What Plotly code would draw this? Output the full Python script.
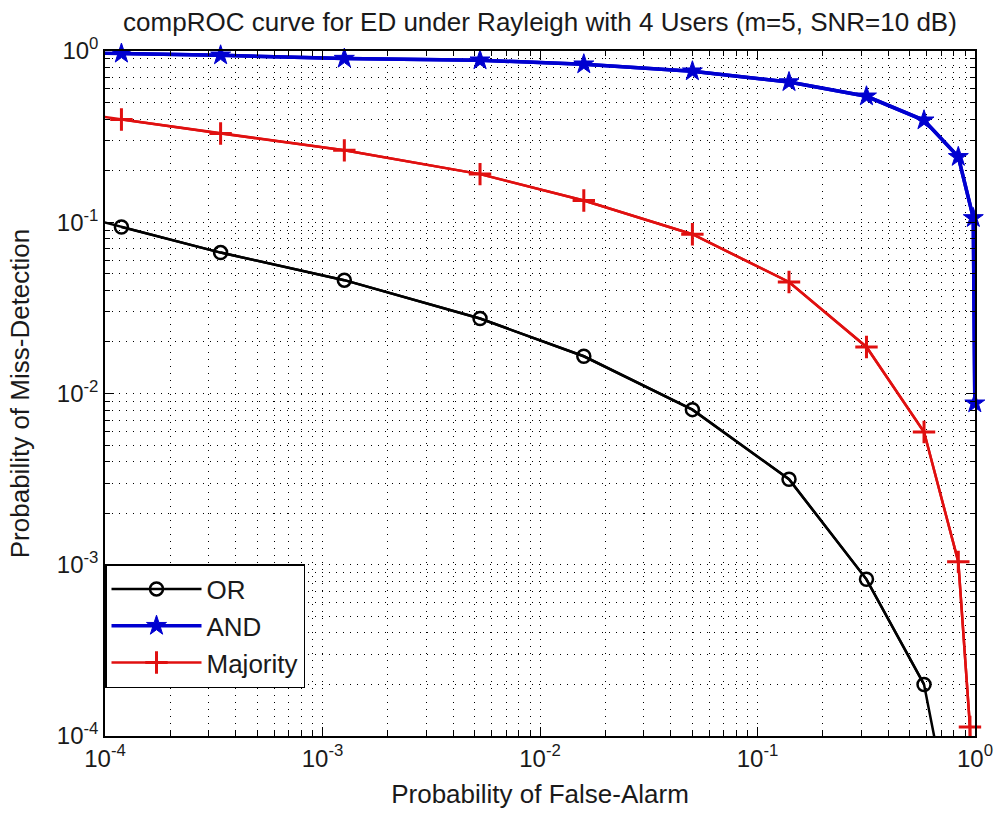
import plotly.graph_objects as go

# ---- data ----
pf_common = [1.19e-4, 3.40e-4, 1.26e-3, 5.30e-3, 1.59e-2, 5.02e-2, 0.1396, 0.317, 0.583, 0.838]

pf_or = pf_common[:9]
pm_or = [0.0939, 0.0665, 0.0459, 0.0274, 0.0165, 0.00805, 0.00316, 8.22e-4, 2.0e-4]

pf_and = pf_common + [0.982, 0.998]
pm_and = [0.966, 0.944, 0.903, 0.883, 0.837, 0.762, 0.659, 0.544, 0.394, 0.241, 0.106, 0.00877]

pf_maj = pf_common + [0.948]
pm_maj = [0.398, 0.330, 0.263, 0.191, 0.134, 0.0851, 0.0448, 0.0187, 0.00596, 0.00104, 1.13e-4]

# curve segments that continue outside the axes limits (clipped)
pf_or_ext = [4.0e-5] + pf_or + [0.838]
pm_or_ext = [0.135] + pm_or + [1.9e-5]
pf_and_ext = [4.0e-5] + pf_and
pm_and_ext = [0.99] + pm_and
pf_maj_ext = [4.0e-5] + pf_maj + [0.99]
pm_maj_ext = [0.485] + pm_maj + [1.0e-5]

major_vals = [1e-4, 1e-3, 1e-2, 1e-1, 1]
major_text = ["10<sup>-4</sup>", "10<sup>-3</sup>", "10<sup>-2</sup>", "10<sup>-1</sup>", "10<sup>0</sup>"]
minor_vals = [k * 10.0 ** e for e in range(-4, 0) for k in range(2, 10)]

FONT = "Arial, Liberation Sans, Helvetica, sans-serif"
BLACK = "#000000"
BLUE = "#0000d0"
RED = "#e01010"
TXT = "#1a1a1a"

fig = go.Figure()

# clipped line extensions (no legend)
for xs, ys, col, w in [(pf_or_ext, pm_or_ext, BLACK, 2.5),
                       (pf_and_ext, pm_and_ext, BLUE, 3.5),
                       (pf_maj_ext, pm_maj_ext, RED, 2.5)]:
    fig.add_trace(go.Scatter(x=xs, y=ys, mode="lines", line=dict(color=col, width=w),
                             showlegend=False, hoverinfo="skip"))

fig.add_trace(go.Scatter(x=pf_or, y=pm_or, mode="lines+markers", name="OR",
                         line=dict(color=BLACK, width=2.5),
                         marker=dict(symbol="circle-open", size=13, color=BLACK, line=dict(width=2.5)),
                         cliponaxis=False))
fig.add_trace(go.Scatter(x=pf_and, y=pm_and, mode="lines+markers", name="AND",
                         line=dict(color=BLUE, width=3.5),
                         marker=dict(symbol="star", size=15, color=BLUE, line=dict(width=1, color=BLUE)),
                         cliponaxis=False))
fig.add_trace(go.Scatter(x=pf_maj, y=pm_maj, mode="lines+markers", name="Majority",
                         line=dict(color=RED, width=2.5),
                         marker=dict(symbol="cross-thin-open", size=16, color=RED, line=dict(width=3, color=RED)),
                         cliponaxis=False))

axis_common = dict(
    type="log", range=[-4, 0],
    tickvals=major_vals, ticktext=major_text,
    ticks="inside", ticklen=9, tickwidth=1.2, tickcolor=BLACK,
    showline=True, linecolor=BLACK, linewidth=1.5, mirror="allticks",
    showgrid=True, gridcolor="#000000", gridwidth=1, griddash="1px,6px",
    zeroline=False, automargin=False,
    tickfont=dict(family=FONT, size=24, color=TXT),
    minor=dict(tickvals=minor_vals, ticks="inside", ticklen=5, tickcolor=BLACK, tickwidth=1,
               showgrid=True, gridcolor="#000000", gridwidth=1, griddash="1px,6px"),
)

fig.update_layout(
    width=996, height=820,
    margin=dict(l=105, r=21, t=51, b=84),
    paper_bgcolor="white", plot_bgcolor="white",
    title=dict(text="compROC curve for ED under Rayleigh with 4 Users (m=5, SNR=10 dB)",
               x=0.5, xref="paper", xanchor="center",
               y=1 - 22 / 820, yref="container", yanchor="middle",
               font=dict(family=FONT, size=26, color=TXT)),
    xaxis=dict(axis_common, title=dict(text="Probability of False-Alarm", standoff=14,
                                       font=dict(family=FONT, size=26, color=TXT))),
    yaxis=dict(axis_common, title=dict(text="Probability of Miss-Detection", standoff=20,
                                       font=dict(family=FONT, size=26, color=TXT))),
    legend=dict(x=0, y=(736 - 564) / 685, xanchor="left", yanchor="top",
                bgcolor="white", bordercolor=BLACK, borderwidth=1.5,
                font=dict(family=FONT, size=26, color=TXT),
                tracegroupgap=0, itemwidth=90),
)

fig.write_html("out.html")
